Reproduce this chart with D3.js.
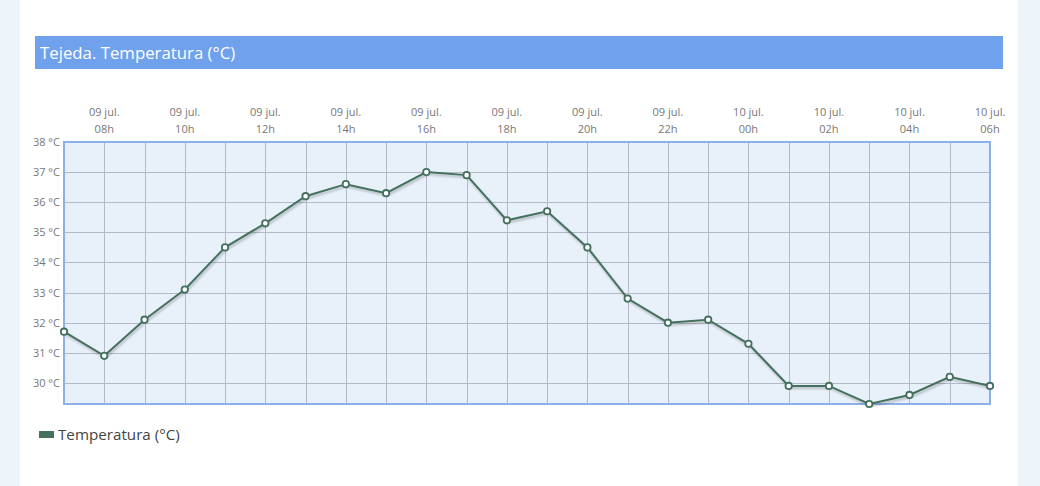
<!DOCTYPE html>
<html>
<head>
<meta charset="utf-8">
<script src="https://cdn.jsdelivr.net/npm/d3@7"></script>
<style>
  html, body { margin: 0; padding: 0; }
  body { width: 1040px; height: 486px; background: #eef5fa; font-family: "Open Sans", sans-serif; overflow: hidden; }
</style>
</head>
<body>
<div id="chart"></div>
<script>
// hourly readings, 09 jul 07h -> 10 jul 06h
var hours = ["07","08","09","10","11","12","13","14","15","16","17","18","19","20","21","22","23","00","01","02","03","04","05","06"]
var days  = ["09","09","09","09","09","09","09","09","09","09","09","09","09","09","09","09","09","10","10","10","10","10","10","10"]
var temps = [31.7,30.9,32.1,33.1,34.5,35.3,36.2,36.6,36.3,37.0,36.9,35.4,35.7,34.5,32.8,32.0,32.1,31.3,29.9,29.9,29.3,29.6,30.2,29.9]
var yTicks = [30,31,32,33,34,35,36,37,38]
var title = "Tejeda. Temperatura (°C)"
var seriesName = "Temperatura (°C)"

var W = 1040, H = 486
var plotLeft = 64, plotRight = 990, plotTop = 142, plotBottom = 404
var lineColor = "#44705d"

var svg = d3.select("#chart").append("svg")
  .attr("width", W).attr("height", H)

var defs = svg.append("defs")
var f = defs.append("filter").attr("id", "shadow")
  .attr("x", "-5%").attr("y", "-5%").attr("width", "110%").attr("height", "120%")
f.append("feDropShadow").attr("dx", 1).attr("dy", 2).attr("stdDeviation", 1.2)
  .attr("flood-color", "#000").attr("flood-opacity", 0.25)

// white card
svg.append("rect").attr("x", 20).attr("y", 0).attr("width", 998).attr("height", H).attr("fill", "#fff")

// header bar
svg.append("rect").attr("x", 35).attr("y", 36).attr("width", 968).attr("height", 33).attr("fill", "#6fa1ec")
svg.append("text").attr("x", 40).attr("y", 59).attr("fill", "#fff")
  .attr("font-size", 16.8).text(title)

var x = d3.scaleLinear().domain([0, temps.length - 1]).range([plotLeft, plotRight])
var y = d3.scaleLinear().domain([d3.min(temps), 38]).range([plotBottom, plotTop])

// plot background
svg.append("rect").attr("x", plotLeft).attr("y", plotTop)
  .attr("width", plotRight - plotLeft).attr("height", plotBottom - plotTop)
  .attr("fill", "#e8f0fa")

// grid
var grid = svg.append("g").attr("stroke", "#b3b9c6").attr("stroke-width", 1)
grid.selectAll("line.v").data(d3.range(1, temps.length - 1)).join("line")
  .attr("x1", d => Math.round(x(d)) + 0.5).attr("x2", d => Math.round(x(d)) + 0.5)
  .attr("y1", plotTop).attr("y2", plotBottom)
grid.selectAll("line.h").data(yTicks.slice(0, -1)).join("line")
  .attr("x1", plotLeft).attr("x2", plotRight)
  .attr("y1", d => Math.round(y(d)) + 0.5).attr("y2", d => Math.round(y(d)) + 0.5)

// y labels
svg.append("g").selectAll("text").data(yTicks).join("text")
  .attr("x", 60).attr("y", d => y(d) + 4)
  .attr("text-anchor", "end").attr("font-size", 11).attr("fill", "#777")
  .text(d => d + " °C")

// x labels on top, every second hour
var xl = svg.append("g").selectAll("text")
  .data(d3.range(1, temps.length, 2)).join("text")
  .attr("text-anchor", "middle").attr("font-size", 11).attr("fill", "#777")
xl.append("tspan").attr("x", d => x(d)).attr("y", 116).text(d => days[d] + " jul.")
xl.append("tspan").attr("x", d => x(d)).attr("y", 133).text(d => hours[d] + "h")

// border
svg.append("rect").attr("x", plotLeft).attr("y", plotTop)
  .attr("width", plotRight - plotLeft).attr("height", plotBottom - plotTop)
  .attr("fill", "none").attr("stroke", "#8eb0e9").attr("stroke-width", 2)

// line
var line = d3.line().x((d, i) => x(i)).y(d => y(d))
svg.append("path").datum(temps)
  .attr("d", line).attr("fill", "none")
  .attr("stroke", lineColor).attr("stroke-width", 2)
  .attr("filter", "url(#shadow)")

svg.append("g").selectAll("circle").data(temps).join("circle")
  .attr("cx", (d, i) => x(i)).attr("cy", d => y(d)).attr("r", 3.2)
  .attr("fill", "#fff").attr("stroke", lineColor).attr("stroke-width", 1.8)

// legend
svg.append("rect").attr("x", 39).attr("y", 431).attr("width", 15).attr("height", 7).attr("fill", lineColor)
svg.append("text").attr("x", 58).attr("y", 440).attr("font-size", 15.2).attr("fill", "#444")
  .text(seriesName)
</script>
</body>
</html>
